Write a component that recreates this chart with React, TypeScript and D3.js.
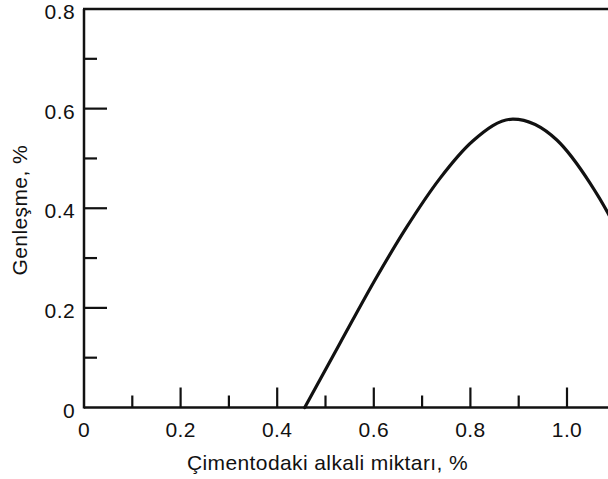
import React from 'react';
import * as d3 from 'd3';

// curve
const alkali = [0.457, 0.53, 0.606, 0.668, 0.737, 0.805, 0.888, 0.979, 1.048, 1.085, 1.1];
const expansion = [0, 0.129, 0.262, 0.362, 0.46, 0.535, 0.579, 0.537, 0.45, 0.39, 0.362];

const xTickLabels = ['0', '0.2', '0.4', '0.6', '0.8', '1.0'];
const xMajor = [0, 0.2, 0.4, 0.6, 0.8, 1.0];
const xMinor = [0.1, 0.3, 0.5, 0.7, 0.9, 1.1];
const yTickLabels = ['0', '0.2', '0.4', '0.6', '0.8'];
const yMajor = [0, 0.2, 0.4, 0.6, 0.8];
const yMinor = [0.1, 0.3, 0.5, 0.7];

const xTitle = 'Çimentodaki alkali miktarı, %';
const yTitle = 'Genleşme, %';

const W = 608;
const H = 479;

const App: React.FC = () => {
    const x = d3.scaleLinear().domain([0, 1]).range([84, 567]);
    const y = d3.scaleLinear().domain([0, 0.8]).range([407.5, 9]);

    const pts: [number, number][] = alkali.map((a, i) => [a, expansion[i]]);
    const line = d3.line<[number, number]>()
        .x(d => x(d[0]))
        .y(d => y(d[1]))
        .curve(d3.curveMonotoneX);

    const font = { fontFamily: '"Liberation Sans", Arial, sans-serif', fontSize: 21, letterSpacing: 0.4, fill: '#111' };
    const ink = '#111';

    return (
        <svg width={W} height={H} style={{ position: 'absolute', left: 0, top: 0, background: '#fff' }}>
            {/* axes frame */}
            <line x1={x(0)} x2={W} y1={y(0)} y2={y(0)} stroke={ink} strokeWidth={2.5} />
            <line x1={x(0)} x2={x(0)} y1={y(0) + 1} y2={y(0.8)} stroke={ink} strokeWidth={2.5} />
            <line x1={x(0) - 1} x2={W} y1={y(0.8)} y2={y(0.8)} stroke={ink} strokeWidth={2.5} />

            {xMajor.slice(1).map(v => (
                <line key={'xM' + v} x1={x(v)} x2={x(v)} y1={y(0)} y2={y(0) - 20} stroke={ink} strokeWidth={2.2} />
            ))}
            {xMinor.map(v => (
                <line key={'xm' + v} x1={x(v)} x2={x(v)} y1={y(0)} y2={y(0) - 12} stroke={ink} strokeWidth={2.2} />
            ))}
            {yMajor.slice(1, -1).map(v => (
                <line key={'yM' + v} x1={x(0)} x2={x(0) + 23} y1={y(v)} y2={y(v)} stroke={ink} strokeWidth={2.2} />
            ))}
            {yMinor.map(v => (
                <line key={'ym' + v} x1={x(0)} x2={x(0) + 13} y1={y(v)} y2={y(v)} stroke={ink} strokeWidth={2.2} />
            ))}

            {xMajor.map((v, i) => (
                <text key={'xl' + v} x={x(v)} y={437} textAnchor="middle" {...font}>{xTickLabels[i]}</text>
            ))}
            {yMajor.map((v, i) => (
                <text key={'yl' + v} x={75} y={y(v) + 10} textAnchor="end" {...font}>{yTickLabels[i]}</text>
            ))}

            <text x={(187 + 468) / 2} y={470} textAnchor="middle" {...font}>{xTitle}</text>
            <text transform={`translate(27, ${y(0.4) + 2}) rotate(-90)`} textAnchor="middle" {...font}>{yTitle}</text>

            <path d={line(pts) || ''} fill="none" stroke={ink} strokeWidth={3.2} strokeLinecap="round" />
        </svg>
    );
};

export default App;
